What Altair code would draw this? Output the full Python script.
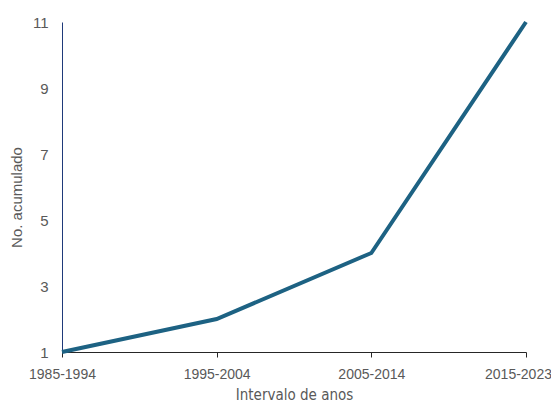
import altair as alt
import pandas as pd

intervals = ["1985-1994", "1995-2004", "2005-2014", "2015-2023"]
cumulative = [1, 2, 4, 11]
y_ticks = [1, 3, 5, 7, 9, 11]

df = pd.DataFrame({"intervalo": intervals, "acumulado": cumulative})

narrow = "Liberation Sans Narrow, DejaVu Sans Condensed, Arial Narrow, sans-serif"

chart = alt.Chart(df).mark_line(color="#1d6283", strokeWidth=4).encode(
    x=alt.X("intervalo:N", sort=intervals,
            scale=alt.Scale(type="point", padding=0),
            axis=alt.Axis(title="Intervalo de anos", labelAngle=0,
                          labelFont="Liberation Sans", labelFontSize=14, labelColor="#595959",
                          labelOffset={"condition": {"test": "datum.value == '2015-2023'", "value": -8}, "value": 0},
                          titleFont=narrow, titleFontSize=15, titleColor="#595959",
                          titleFontWeight="normal",
                          domainColor="#262626", tickColor="#262626", tickSize=5,
                          labelPadding=10, titlePadding=6, grid=False)),
    y=alt.Y("acumulado:Q",
            scale=alt.Scale(domain=[1, 11], nice=False, zero=False),
            axis=alt.Axis(title="No. acumulado", values=y_ticks,
                          labelFont="Liberation Sans", labelFontSize=15, labelColor="#595959",
                          titleFont="Liberation Sans", titleFontSize=15, titleColor="#595959",
                          titleFontWeight="normal", titleY=175,
                          domainColor="#1f3a7a", ticks=False, labelPadding=14,
                          titlePadding=8, grid=False)),
).properties(
    width=464, height=330,
    autosize=alt.AutoSizeParams(type="none"),
    padding={"left": 54, "top": 14, "right": 25, "bottom": 55},
).configure(background="white").configure_view(stroke=None)

chart.save("out.html", embed_options={"renderer": "svg", "actions": False})
